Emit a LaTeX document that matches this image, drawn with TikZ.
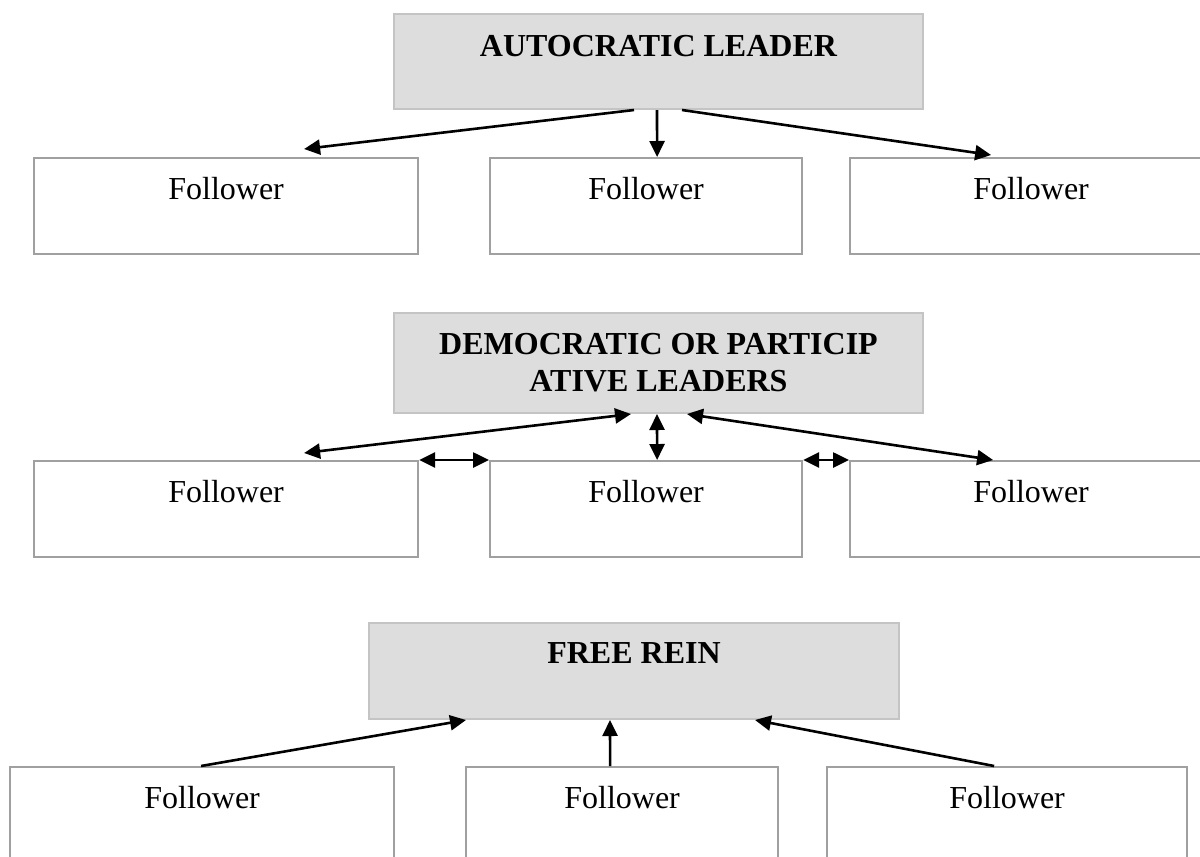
\documentclass[tikz,border=0pt]{standalone}
\usepackage{fontspec}
\setmainfont{Liberation Serif}
\usetikzlibrary{arrows.meta}

\definecolor{leaderfill}{HTML}{DDDDDD}
\definecolor{leaderline}{HTML}{C4C4C4}
\definecolor{followerline}{HTML}{A0A0A0}

\tikzset{
  every node/.style={font=\fontsize{32}{37}\selectfont},
  leaderbox/.style={draw=leaderline, fill=leaderfill, line width=2pt,
    inner sep=0pt, anchor=north west, font=\fontsize{32}{37}\selectfont\bfseries},
  followerbox/.style={draw=followerline, line width=2.2pt, inner sep=0pt,
    anchor=north west, text height=41pt, text depth=55pt},
  topline/.style={text height=42pt, text depth=53pt},
  tip/.tip={Triangle[length=16pt,width=15pt]},
  arr/.style={line width=2.6pt, -tip},
  biarr/.style={line width=2.6pt, tip-tip}
}

\begin{document}
\begin{tikzpicture}[x=1pt, y=-1pt]
\useasboundingbox (0,0) rectangle (1200,857);
\clip (0,0) rectangle (1200,857);
\fill[white] (0,0) rectangle (1200,857);

% ---- Autocratic leader ----
\node[leaderbox, topline, minimum width=529pt, minimum height=95pt] (A) at (393,13) {AUTOCRATIC LEADER};
\node[followerbox, minimum width=384pt, minimum height=96pt] (F11) at (33,157) {Follower};
\node[followerbox, minimum width=312pt, minimum height=96pt] (F12) at (489,157) {Follower};
\node[followerbox, minimum width=362pt, minimum height=96pt] (F13) at (849,157) {Follower};

\draw[arr] ([xshift=-24.5pt]A.south) -- ([xshift=78pt,yshift=8pt]F11.north);
\draw[arr] ([xshift=-1.5pt]A.south) -- ([xshift=11pt]F12.north);
\draw[arr] ([xshift=23.5pt]A.south) -- ([xshift=-40pt,yshift=2pt]F13.north);

% ---- Democratic / participative leaders ----
\node[leaderbox, align=center, minimum width=529pt, minimum height=100pt] (D) at (393,312)
  {DEMOCRATIC OR PARTICIP\\ATIVE LEADERS};
\node[followerbox, minimum width=384pt, minimum height=96pt] (F21) at (33,460) {Follower};
\node[followerbox, minimum width=312pt, minimum height=96pt] (F22) at (489,460) {Follower};
\node[followerbox, minimum width=362pt, minimum height=96pt] (F23) at (849,460) {Follower};

\draw[biarr] ([xshift=-27.5pt]D.south) -- ([xshift=78pt,yshift=7pt]F21.north);
\draw[biarr] ([xshift=-1.5pt]D.south) -- ([xshift=11pt]F22.north);
\draw[biarr] ([xshift=28.5pt]D.south) -- ([xshift=-38pt]F23.north);
\draw[biarr] (F21.north east) -- (F22.north west);
\draw[biarr] (F22.north east) -- (F23.north west);

% ---- Free rein ----
\node[leaderbox, minimum width=530pt, minimum height=96pt, text height=40pt, text depth=56pt] (R) at (368,622) {FREE REIN};
\node[followerbox, minimum width=384pt, minimum height=120pt, text height=41pt, text depth=79pt] (F31) at (9,766) {Follower};
\node[followerbox, minimum width=312pt, minimum height=120pt, text height=41pt, text depth=79pt] (F32) at (465,766) {Follower};
\node[followerbox, minimum width=360pt, minimum height=120pt, text height=41pt, text depth=79pt] (F33) at (826,766) {Follower};

\draw[arr] ([xshift=-1pt]F31.north) -- ([xshift=-168pt]R.south);
\draw[arr] ([xshift=-12pt]F32.north) -- ([xshift=-24pt]R.south);
\draw[arr] ([xshift=-13pt]F33.north) -- ([xshift=121pt]R.south);
\end{tikzpicture}
\end{document}
